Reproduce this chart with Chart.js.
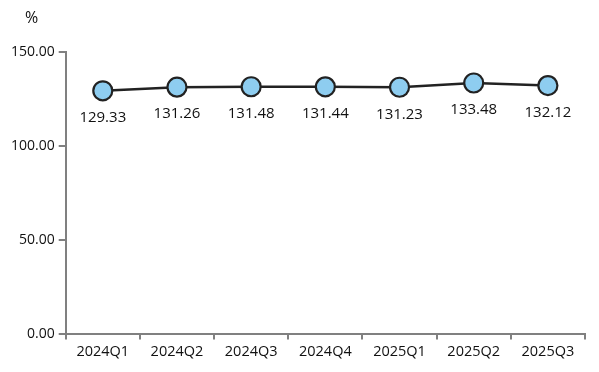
<!DOCTYPE html>
<html>
<head>
<meta charset="utf-8">
<script src="https://cdn.jsdelivr.net/npm/chart.js@4"></script>
<style>
  html, body { margin: 0; padding: 0; background: #fff; }
  canvas { display: block; }
</style>
</head>
<body>
<canvas id="rateChart" width="599" height="372"></canvas>
<script>
const quarters = ['2024Q1', '2024Q2', '2024Q3', '2024Q4', '2025Q1', '2025Q2', '2025Q3'];
const rateValues = [129.33, 131.26, 131.48, 131.44, 131.23, 133.48, 132.12];
const yTicks = [0, 50, 100, 150];

const fontFamily = '"Open Sans", "Noto Sans", sans-serif';

// draw value labels under each point + the "%" unit
const labelPlugin = {
    id: 'valueLabels',
    afterDatasetsDraw(chart) {
        const c = chart.ctx;
        const meta = chart.getDatasetMeta(0);
        c.save();
        c.font = '15px ' + fontFamily;
        c.fillStyle = '#111';
        c.textAlign = 'center';
        c.textBaseline = 'middle';
        meta.data.forEach((pt, i) => {
            c.fillText(rateValues[i].toFixed(2), pt.x, pt.y + 27);
        });
        c.font = '16px ' + fontFamily;
        c.fillText('%', chart.chartArea.left - 34, chart.chartArea.top - 34);
        c.restore();
    }
};

const ctx = document.getElementById('rateChart').getContext('2d');

new Chart(ctx, {
    type: 'line',
    data: {
        labels: quarters,
        datasets: [{
            data: rateValues,
            borderColor: '#222222',
            borderWidth: 2.5,
            pointRadius: 9.5,
            pointBorderWidth: 2.2,
            pointBackgroundColor: '#8ecdf0',
            pointBorderColor: '#222222',
            tension: 0
        }]
    },
    options: {
        responsive: false,
        animation: false,
        layout: { padding: { top: 52, right: 14, left: 7, bottom: 7 } },
        plugins: {
            legend: { display: false },
            tooltip: { enabled: false }
        },
        scales: {
            x: {
                offset: true,
                border: { color: '#808080', width: 2 },
                grid: { offset: true, drawOnChartArea: false, color: '#808080', lineWidth: 2, tickLength: 6 },
                ticks: { color: '#111', font: { size: 14.5, family: fontFamily }, padding: 4, maxRotation: 0 }
            },
            y: {
                min: 0,
                max: 150,
                afterBuildTicks: axis => { axis.ticks = yTicks.map(v => ({ value: v })); },
                border: { color: '#808080', width: 2 },
                grid: { drawOnChartArea: false, color: '#808080', lineWidth: 2, tickLength: 7 },
                ticks: {
                    color: '#111',
                    font: { size: 14, family: fontFamily },
                    padding: 4,
                    callback: v => Number(v).toFixed(2)
                }
            }
        }
    },
    plugins: [labelPlugin]
});
</script>
</body>
</html>
